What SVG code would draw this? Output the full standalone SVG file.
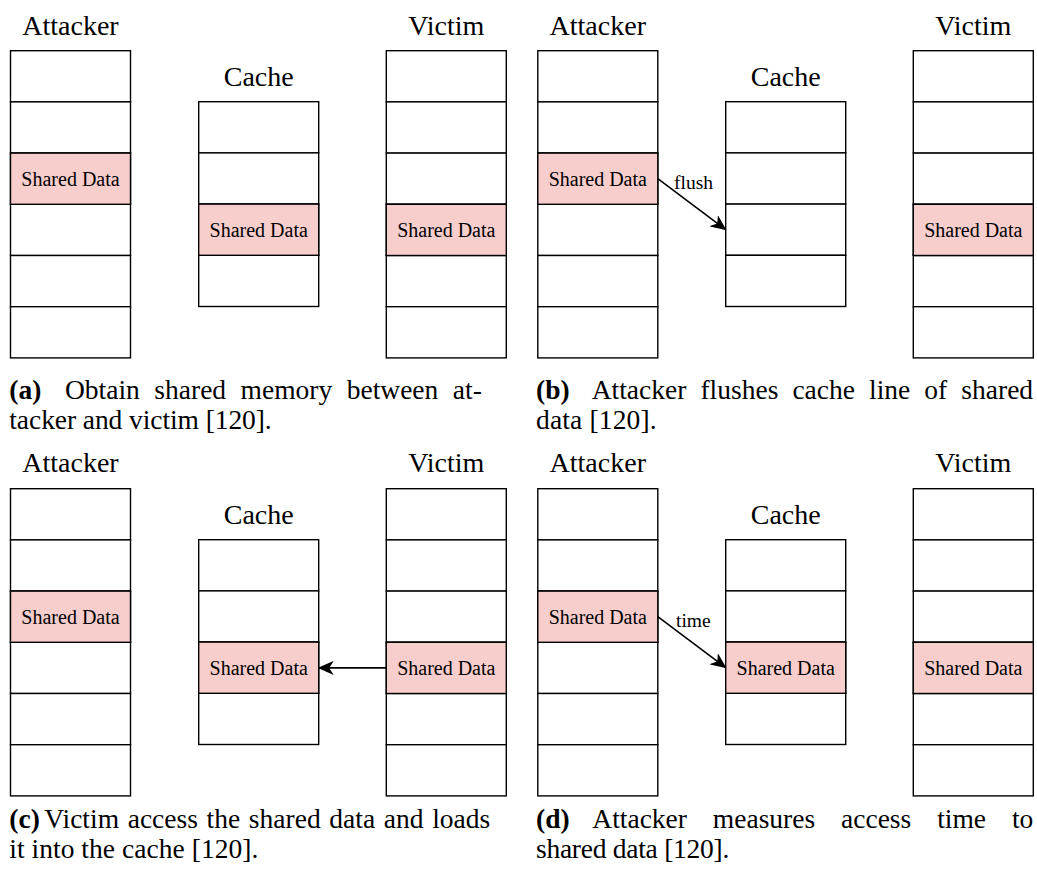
<svg xmlns="http://www.w3.org/2000/svg" width="1037" height="873" viewBox="0 0 1037 873">
<style>
.cell{fill:#ffffff;stroke:#000000;stroke-width:1.4}
.sh{fill:#f8cecc;stroke:#000000;stroke-width:1.4}
.title{font-family:"Liberation Serif","Times New Roman",serif;font-size:28px;fill:#000;text-anchor:middle}
.lbl{font-family:"Liberation Serif","Times New Roman",serif;font-size:20px;fill:#000;text-anchor:middle}
.elbl{font-family:"Liberation Serif","Times New Roman",serif;font-size:19.5px;fill:#000}
.cap{font-family:"Liberation Serif","Times New Roman",serif;font-size:27.5px;fill:#000}
.capb{font-family:"Liberation Serif","Times New Roman",serif;font-size:27.5px;font-weight:bold;fill:#000}
.conn{fill:none;stroke:#000000;stroke-width:1.6}
</style>
<defs>
<marker id="arr" markerUnits="userSpaceOnUse" markerWidth="16" markerHeight="14" viewBox="0 0 16 14" refX="15" refY="7" orient="auto">
<path d="M0,0 L16,7 L0,14 L4.5,7 Z" fill="#000"/>
</marker>
<g id="col6">
<rect class="cell" x="0" y="0" width="120" height="51.2"/>
<rect class="cell" x="0" y="51.2" width="120" height="51.2"/>
<rect class="cell" x="0" y="102.4" width="120" height="51.2"/>
<rect class="cell" x="0" y="153.6" width="120" height="51.2"/>
<rect class="cell" x="0" y="204.8" width="120" height="51.2"/>
<rect class="cell" x="0" y="256" width="120" height="51.2"/>
</g>
<g id="col4">
<rect class="cell" x="0" y="0" width="120" height="51.2"/>
<rect class="cell" x="0" y="51.2" width="120" height="51.2"/>
<rect class="cell" x="0" y="102.4" width="120" height="51.2"/>
<rect class="cell" x="0" y="153.6" width="120" height="51.2"/>
</g>
</defs>

<!-- Panel a -->
<g id="a-attacker">
<text class="title" x="70.5" y="35">Attacker</text>
<use href="#col6" x="10.5" y="50.7"/>
<rect class="sh" x="10.5" y="153.1" width="120" height="51.2"/>
<text class="lbl" x="70.5" y="186.2">Shared Data</text>
</g>
<g id="a-cache">
<text class="title" x="258.7" y="85.7">Cache</text>
<use href="#col4" x="198.7" y="101.7"/>
<rect class="sh" x="198.7" y="204.1" width="120" height="51.2"/>
<text class="lbl" x="258.7" y="237.2">Shared Data</text>
</g>
<g id="a-victim">
<text class="title" x="446.3" y="35">Victim</text>
<use href="#col6" x="386.3" y="50.7"/>
<rect class="sh" x="386.3" y="204.3" width="120" height="51.2"/>
<text class="lbl" x="446.3" y="237.4">Shared Data</text>
</g>
<g id="a-caption">
<text class="capb" x="9.3" y="399">(a)</text>
<text class="cap" x="65" y="399" word-spacing="7.6">Obtain shared memory between at-</text>
<text class="cap" x="9.3" y="429" textLength="262.4" lengthAdjust="spacing">tacker and victim [120].</text>
</g>

<!-- Panel b -->
<g id="b-attacker">
<text class="title" x="597.8" y="35">Attacker</text>
<use href="#col6" x="537.8" y="50.7"/>
<rect class="sh" x="537.8" y="153.1" width="120" height="51.2"/>
<text class="lbl" x="597.8" y="186.2">Shared Data</text>
</g>
<g id="b-cache">
<text class="title" x="785.7" y="85.7">Cache</text>
<use href="#col4" x="725.7" y="101.7"/>
</g>
<g id="b-victim">
<text class="title" x="973.3" y="35">Victim</text>
<use href="#col6" x="913.3" y="50.7"/>
<rect class="sh" x="913.3" y="204.3" width="120" height="51.2"/>
<text class="lbl" x="973.3" y="237.4">Shared Data</text>
</g>
<g id="b-caption">
<text class="capb" x="536" y="399">(b)</text>
<text class="cap" x="591.7" y="399" word-spacing="7.2">Attacker flushes cache line of shared</text>
<text class="cap" x="536" y="429" textLength="120.7" lengthAdjust="spacing">data [120].</text>
</g>

<!-- Panel c -->
<g id="c-attacker">
<text class="title" x="70.5" y="472">Attacker</text>
<use href="#col6" x="10.5" y="488.7"/>
<rect class="sh" x="10.5" y="591.1" width="120" height="51.2"/>
<text class="lbl" x="70.5" y="624.2">Shared Data</text>
</g>
<g id="c-cache">
<text class="title" x="258.7" y="523.7">Cache</text>
<use href="#col4" x="198.7" y="539.7"/>
<rect class="sh" x="198.7" y="642.1" width="120" height="51.2"/>
<text class="lbl" x="258.7" y="675.2">Shared Data</text>
</g>
<g id="c-victim">
<text class="title" x="446.3" y="472">Victim</text>
<use href="#col6" x="386.3" y="488.7"/>
<rect class="sh" x="386.3" y="642.3" width="120" height="51.2"/>
<text class="lbl" x="446.3" y="675.4">Shared Data</text>
</g>
<g id="c-caption">
<text class="capb" x="9.3" y="828">(c)</text>
<text class="cap" x="44.3" y="828" word-spacing="1.8">Victim access the shared data and loads</text>
<text class="cap" x="9.3" y="858" textLength="249" lengthAdjust="spacing">it into the cache [120].</text>
</g>

<!-- Panel d -->
<g id="d-attacker">
<text class="title" x="597.8" y="472">Attacker</text>
<use href="#col6" x="537.8" y="488.7"/>
<rect class="sh" x="537.8" y="591.1" width="120" height="51.2"/>
<text class="lbl" x="597.8" y="624.2">Shared Data</text>
</g>
<g id="d-cache">
<text class="title" x="785.7" y="523.7">Cache</text>
<use href="#col4" x="725.7" y="539.7"/>
<rect class="sh" x="725.7" y="642.1" width="120" height="51.2"/>
<text class="lbl" x="785.7" y="675.2">Shared Data</text>
</g>
<g id="d-victim">
<text class="title" x="973.3" y="472">Victim</text>
<use href="#col6" x="913.3" y="488.7"/>
<rect class="sh" x="913.3" y="642.3" width="120" height="51.2"/>
<text class="lbl" x="973.3" y="675.4">Shared Data</text>
</g>
<g id="d-caption">
<text class="capb" x="536" y="828">(d)</text>
<text class="cap" x="592.3" y="828" word-spacing="19">Attacker measures access time to</text>
<text class="cap" x="536" y="858" textLength="193.3" lengthAdjust="spacing">shared data [120].</text>
</g>

<!-- Connectors -->
<g id="connectors">
<path class="conn" d="M657.8,178.7 L725.7,229.7" marker-end="url(#arr)"/>
<text class="elbl" x="674" y="189.3">flush</text>
<path class="conn" d="M386.3,667.9 L318.7,667.9" marker-end="url(#arr)"/>
<path class="conn" d="M657.8,616.7 L725.7,667.7" marker-end="url(#arr)"/>
<text class="elbl" x="676" y="626.7">time</text>
</g>
</svg>
